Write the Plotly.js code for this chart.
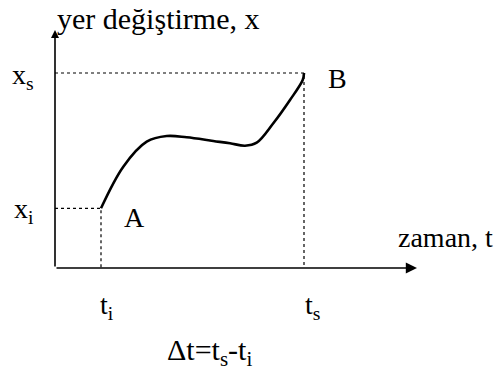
<!DOCTYPE html>
<html>
<head>
<meta charset="utf-8">
<script src="https://cdn.plot.ly/plotly-3.0.1.min.js"></script>
<style>html,body{margin:0;padding:0;background:#fff;}#chart{width:496px;height:372px;}</style>
</head>
<body>
<div id="chart"></div>
<script>
// Path of the displacement curve (time t, displacement x), arbitrary units
var tValues = [4.6, 6.83, 9.17, 11.17, 13.17, 15.83, 17.5, 19.0, 20.17, 21.83, 23.5, 24.77, 24.9];
var xValues = [5.97, 10.13, 12.63, 13.2, 13.07, 12.7, 12.47, 12.23, 12.53, 14.47, 16.8, 18.8, 19.5];
// Start / end points
var tI = 4.6, tS = 24.9;
var xI = 5.97, xS = 19.5;
// Axis extents
var tAxisEnd = 36.2, xAxisEnd = 23.8;
// Texts
var yTitle = 'yer değiştirme, x';
var xTitle = 'zaman, t';
var labelXs = 'x<sub>s</sub>';
var labelXi = 'x<sub>i</sub>';
var labelTi = 't<sub>i</sub>';
var labelTs = 't<sub>s</sub>';
var labelDelta = 'Δt=t<sub>s</sub>-t<sub>i</sub>';
var pointA = 'A', pointB = 'B';

var FAMILY = 'Liberation Serif';
var dot = {color: '#000', width: 1.2, dash: 'dot'};

var traces = [
  {x: [0, tS, tS], y: [xS, xS, 0], mode: 'lines', line: dot, hoverinfo: 'skip'},
  {x: [0, tI, tI], y: [xI, xI, 0], mode: 'lines', line: dot, hoverinfo: 'skip'},
  {x: tValues, y: xValues, mode: 'lines', line: {color: '#000', width: 2.6, shape: 'spline', smoothing: 1}, hoverinfo: 'skip'}
];

function lbl(text, x, y, xa, size, opts) {
  var a = {text: text, x: x, y: y, xref: 'x', yref: 'y', showarrow: false,
           font: {family: FAMILY, size: size || 28, color: '#000'}, xanchor: xa || 'center', yanchor: 'middle'};
  for (var k in (opts || {})) a[k] = opts[k];
  return a;
}

var annotations = [
  // axes with arrows
  {x: tAxisEnd, y: 0, ax: 0, ay: 0, axref: 'x', ayref: 'y', xref: 'x', yref: 'y', text: '', showarrow: true, arrowhead: 2, arrowsize: 1.4, arrowwidth: 1.6, arrowcolor: '#000'},
  {x: 0, y: xAxisEnd, ax: 0, ay: 0, axref: 'x', ayref: 'y', xref: 'x', yref: 'y', text: '', showarrow: true, arrowhead: 2, arrowsize: 1.0, arrowwidth: 1.6, arrowcolor: '#000'},
  lbl(yTitle, 10.25, 25.0, 'center', 30),
  lbl(xTitle, 34.1, 3.05, 'left', 28),
  lbl(labelXs, -4.5, xS, 'left', 28, {yshift: -3}),
  lbl(labelXi, -4.3, xI, 'left', 28, {yshift: -2}),
  lbl(labelTi, tI, -3.85, 'center', 28, {xshift: 6}),
  lbl(labelTs, tS, -3.85, 'center', 28, {xshift: 8}),
  lbl(labelDelta, 15.4, -8.35, 'center', 30),
  lbl(pointA, 7.9, 5.1),
  lbl(pointB, 28.2, 19.0)
];

var layout = {
  width: 496, height: 372,
  font: {family: FAMILY, size: 28, color: '#000'},
  margin: {l: 0, r: 0, t: 0, b: 0, pad: 0},
  paper_bgcolor: '#fff', plot_bgcolor: '#fff',
  showlegend: false,
  xaxis: {range: [-5.5, 44.1], visible: false, fixedrange: true},
  yaxis: {range: [-10.4, 26.8], visible: false, fixedrange: true},
  annotations: annotations
};

Plotly.newPlot('chart', traces, layout, {displayModeBar: false, staticPlot: true});
</script>
</body>
</html>
